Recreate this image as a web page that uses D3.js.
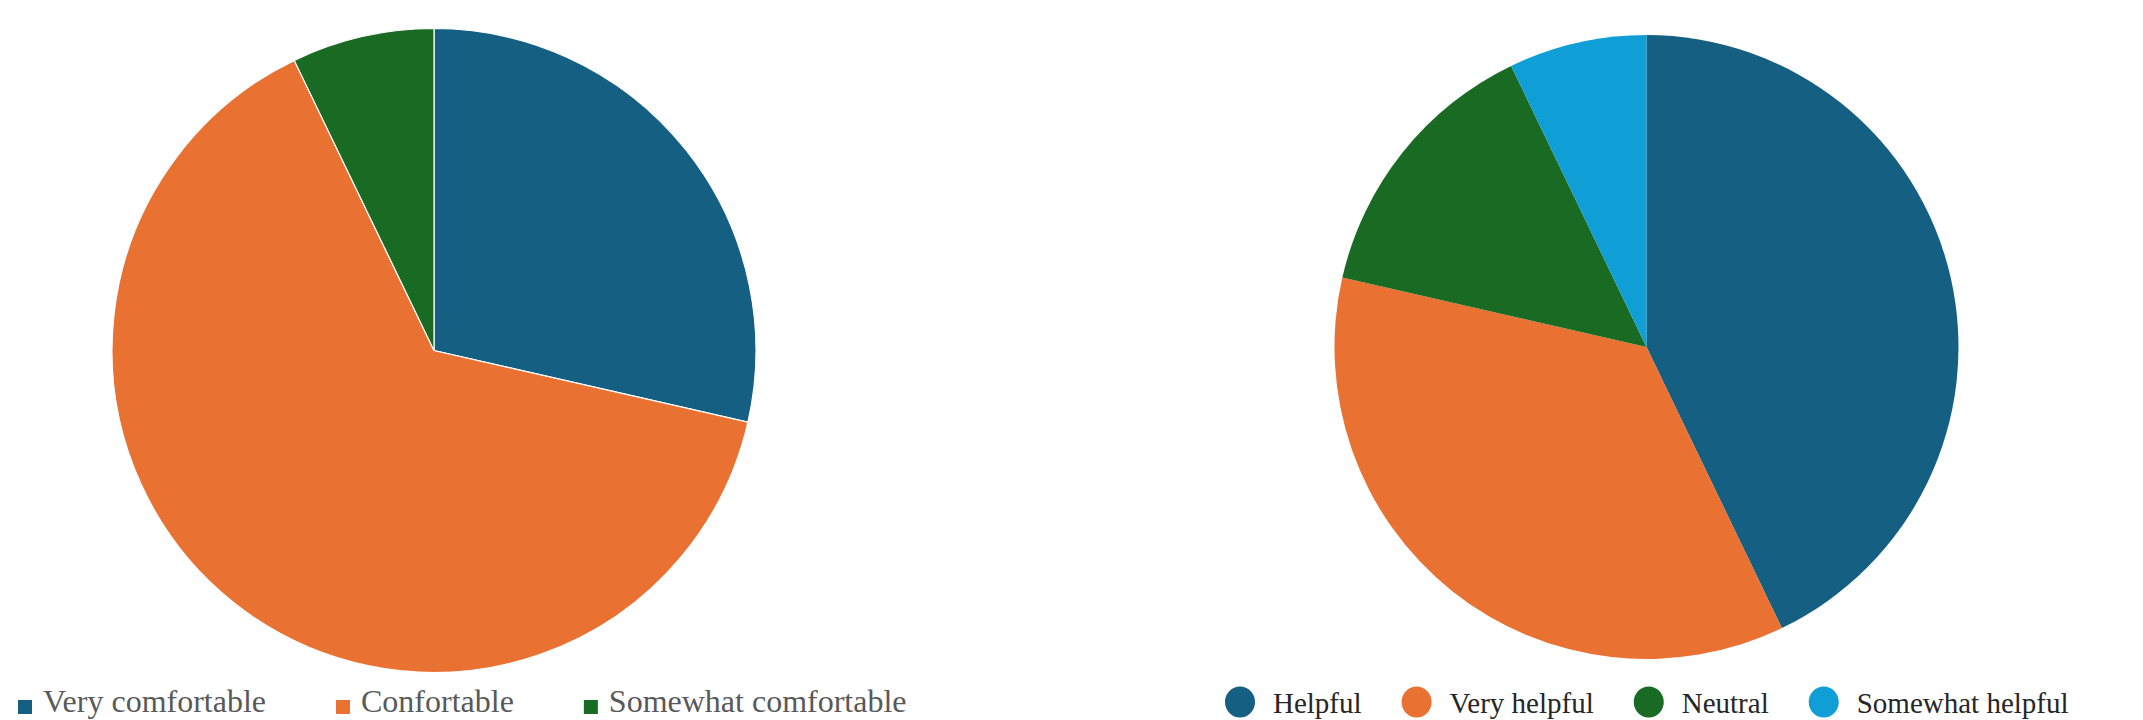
<!DOCTYPE html>
<html><head><meta charset="utf-8">
<script src="https://cdn.jsdelivr.net/npm/d3@7"></script>
<style>html,body{margin:0;padding:0;background:#fff;overflow:hidden}</style>
</head><body>
<svg id="chart" width="2143" height="720"></svg>
<script>
const leftCategories = ["Very comfortable", "Confortable", "Somewhat comfortable"];
const leftValues = [4, 9, 1];
const leftColors = ["#156082", "#E97132", "#196B24"];

const rightCategories = ["Helpful", "Very helpful", "Neutral", "Somewhat helpful"];
const rightValues = [6, 5, 2, 1];
const rightColors = ["#156082", "#E97132", "#196B24", "#0F9ED5"];

const svg = d3.select("#chart");

function drawPie(cats, vals, colors, cx, cy, r, stroke) {
  const color = d3.scaleOrdinal().domain(cats).range(colors);
  const pie = d3.pie().sort(null).value(d => d.v);
  const arc = d3.arc().innerRadius(0).outerRadius(r);
  const data = cats.map((c, i) => ({c, v: vals[i]}));
  svg.append("g").attr("transform", `translate(${cx},${cy})`)
    .selectAll("path").data(pie(data)).join("path")
    .attr("d", arc)
    .attr("fill", d => color(d.data.c))
    .attr("stroke", stroke ? "#ffffff" : "none")
    .attr("stroke-width", stroke ? 1.2 : 0);
  return color;
}

const lc = drawPie(leftCategories, leftValues, leftColors, 434, 350.5, 322, true);
const rc = drawPie(rightCategories, rightValues, rightColors, 1646.5, 347, 312, false);

// left legend (squares)
{
  let x = 18;
  const g = svg.append("g");
  leftCategories.forEach(c => {
    g.append("rect").attr("x", x).attr("y", 700).attr("width", 14).attr("height", 14).attr("fill", lc(c));
    const t = g.append("text").attr("x", x + 25).attr("y", 712)
      .attr("font-family", "'Liberation Serif', 'Times New Roman', serif")
      .attr("font-size", 32).attr("fill", "#595959").text(c);
    x = x + 25 + t.node().getComputedTextLength() + 70;
  });
}

// right legend (circles)
{
  let x = 1225;
  const g = svg.append("g");
  rightCategories.forEach(c => {
    g.append("ellipse").attr("cx", x + 15).attr("cy", 702).attr("rx", 15).attr("ry", 15.5).attr("fill", rc(c));
    const t = g.append("text").attr("x", x + 48).attr("y", 713)
      .attr("font-family", "'Liberation Serif', 'Times New Roman', serif")
      .attr("font-size", 29).attr("fill", "#262626").text(c);
    x = x + 48 + t.node().getComputedTextLength() + 40;
  });
}
</script>
</body></html>
